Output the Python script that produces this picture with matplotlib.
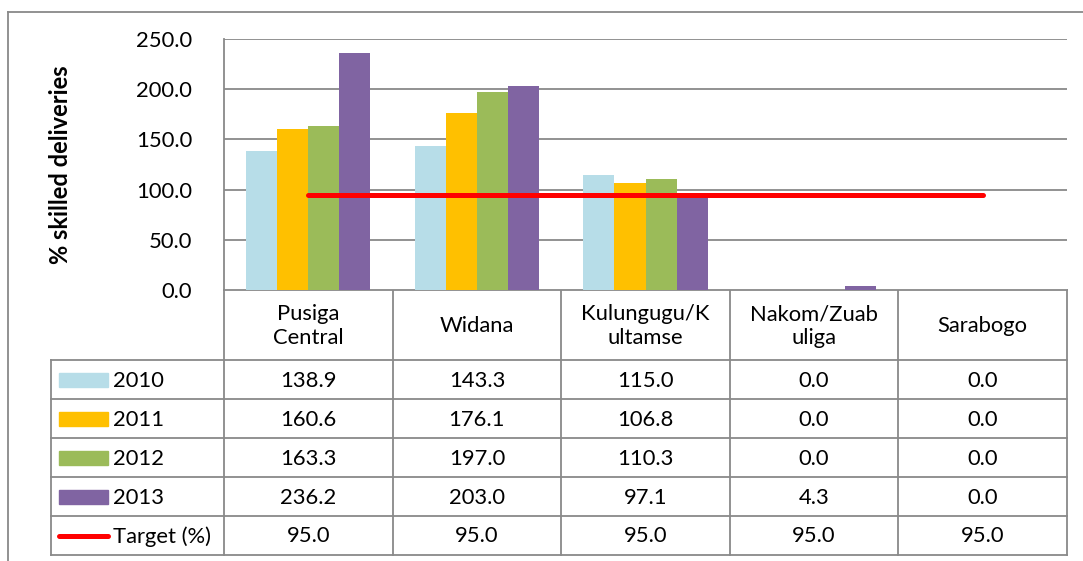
import numpy as np
import matplotlib
matplotlib.use("Agg")
import matplotlib.pyplot as plt

plt.rcParams['font.family'] = ['Lato', 'DejaVu Sans']

# data
categories = ["Pusiga\nCentral", "Widana", "Kulungugu/K\nultamse", "Nakom/Zuab\nuliga", "Sarabogo"]
years = ["2010", "2011", "2012", "2013"]
v2010 = [138.9, 143.3, 115.0, 0.0, 0.0]
v2011 = [160.6, 176.1, 106.8, 0.0, 0.0]
v2012 = [163.3, 197.0, 110.3, 0.0, 0.0]
v2013 = [236.2, 203.0, 97.1, 4.3, 0.0]
target = [95.0, 95.0, 95.0, 95.0, 95.0]
yticks = [0, 50, 100, 150, 200, 250]

colors = ["#B7DDE8", "#FFC000", "#9BBB59", "#8064A2"]
red = "#FF0000"
grid_c = "#898989"
fs = 15.8

W, H = 1083, 561
fig = plt.figure(figsize=(W / 100, H / 100), dpi=100)

# pixel layout
px_left, px_right = 224, 1067
px_top, px_zero = 39, 290
col_w = (px_right - px_left) / len(categories)

ax = fig.add_axes([px_left / W, 1 - px_zero / H, (px_right - px_left) / W, (px_zero - px_top) / H])
x = np.arange(len(categories))
bw = 0.184
series = [v2010, v2011, v2012, v2013]
for i, vals in enumerate(series):
    ax.bar(x + (i - 1.5) * bw, vals, width=bw, color=colors[i], zorder=2)
ax.plot(x, target, color=red, lw=3.6, solid_capstyle='round', zorder=3)

ax.set_xlim(-0.5, len(categories) - 0.5)
ax.set_ylim(0, 250)
ax.set_yticks(yticks)
ax.set_yticklabels([f"{t:.1f}" for t in yticks], fontsize=fs)
ax.set_xticks([])
ax.tick_params(axis='y', length=0, pad=23)
ax.grid(axis='y', color=grid_c, lw=1.3, zorder=0)
for s in ['top', 'right', 'bottom']:
    ax.spines[s].set_visible(False)
ax.spines['left'].set_color(grid_c)
ax.spines['left'].set_linewidth(1.3)

# data table drawn in pixel coordinates
tab = fig.add_axes([0, 0, 1, 1], zorder=-1)
tab.set_xlim(0, W)
tab.set_ylim(H, 0)
tab.axis('off')

tab.text(61, 165, "% skilled deliveries", rotation=90, ha='center', va='center',
         fontsize=17, fontweight='bold')

# chart border
tab.plot([8, 8], [12, H], color=grid_c, lw=1.3)
tab.plot([8, W], [12, 12], color=grid_c, lw=1.3)

head_bot = 360
row_h = 39
leg_left = 51
n_rows = 5
table_bot = head_bot + n_rows * row_h
col_x = [px_left + i * col_w for i in range(len(categories) + 1)]

lkw = dict(color=grid_c, lw=1.3)
# header
tab.plot([px_left, px_right], [px_zero, px_zero], **lkw)
for cx in col_x:
    tab.plot([cx, cx], [px_zero, table_bot], **lkw)
for i, cat in enumerate(categories):
    tab.text(col_x[i] + col_w / 2, (px_zero + head_bot) / 2 + 1, cat, ha='center', va='center',
             fontsize=fs, linespacing=1.2)
# rows
for r in range(n_rows + 1):
    yy = head_bot + r * row_h
    tab.plot([leg_left, px_right], [yy, yy], **lkw)
tab.plot([leg_left, leg_left], [head_bot, table_bot], **lkw)

row_labels = years + ["Target (%)"]
row_vals = series + [target]
for r in range(n_rows):
    yc = head_bot + r * row_h + row_h / 2
    if r < 4:
        tab.add_patch(plt.Rectangle((59, yc - 7), 49, 14, color=colors[r]))
    else:
        tab.plot([59, 108], [yc, yc], color=red, lw=3.6, solid_capstyle='round')
    tab.text(113, yc + 1, row_labels[r], ha='left', va='center', fontsize=fs)
    for i, v in enumerate(row_vals[r]):
        tab.text(col_x[i] + col_w / 2, yc + 1, f"{v:.1f}", ha='center', va='center', fontsize=fs)

fig.savefig("out.png", dpi=100)
